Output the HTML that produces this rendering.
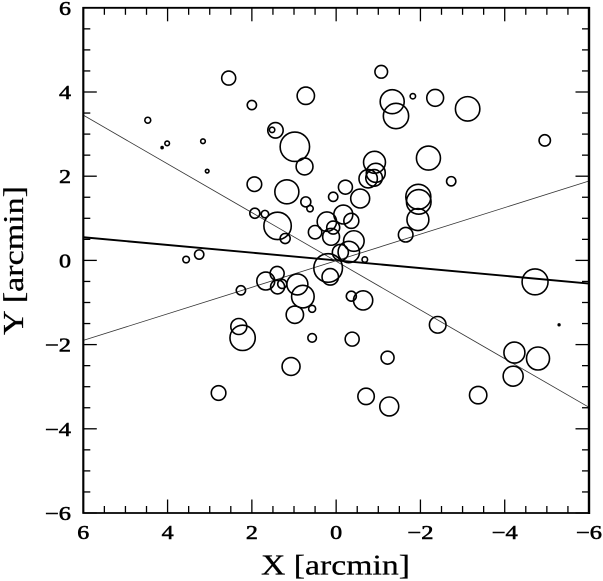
<!DOCTYPE html>
<html>
<head>
<meta charset="utf-8">
<title>X-Y arcmin bubble chart</title>
<style>
html,body{margin:0;padding:0;background:#fff;}
svg{display:block;}
text{font-family:"Liberation Serif",serif;fill:#000;stroke:#000;stroke-width:.25px;}
#tick-labels text{stroke-width:.55px;}
</style>
</head>
<body>
<svg id="chart" width="603" height="581" viewBox="0 0 603 581" xmlns="http://www.w3.org/2000/svg">
<rect x="0" y="0" width="603" height="581" fill="#fff"/>
<g id="lines"></g>
<g id="bubbles" fill="none" stroke="#000" stroke-width="1.6"></g>
<g id="ticks" stroke="#000" stroke-width="1.3"></g>
<g id="tick-labels" font-size="20"></g>
<path d="M83.3 7.8H589V513H83.3Z" fill="none" stroke="#000" stroke-width="1.8"/>
<path d="M83.3 7V513.5" stroke="#000" stroke-width="2"/>
<path d="M589 7V514" stroke="#000" stroke-width="2.4"/>
<text x="335.5" y="574.5" font-size="28" text-anchor="middle" textLength="149" lengthAdjust="spacingAndGlyphs">X [arcmin]</text>
<text x="0" y="0" transform="translate(23,260.5) rotate(-90)" font-size="28" text-anchor="middle" textLength="149" lengthAdjust="spacingAndGlyphs">Y [arcmin]</text>
</svg>
<script>
const xValues = [2.55,2.00,4.47,4.01,4.13,3.16,3.06,1.44,1.52,0.98,0.75,1.94,1.17,1.93,1.69,1.39,1.21,3.25,3.56,0.72,-1.07,-1.33,-1.42,-1.82,-2.35,-3.12,-4.95,-0.91,-2.19,-0.94,-0.76,-0.90,-2.73,-0.22,0.07,-0.57,0.72,0.62,-1.95,-1.96,-1.94,-0.17,-0.36,0.22,0.07,0.50,0.12,-1.65,-0.42,-0.10,-0.30,-0.68,0.19,0.14,-4.72,-2.41,-5.29,-4.23,-4.79,-4.20,-3.37,-1.22,-1.26,-0.71,-0.38,0.57,0.57,-0.36,-0.64,0.79,1.67,1.40,1.39,1.28,0.92,2.26,0.98,2.31,2.22,2.79,1.07];
const yValues = [4.33,3.69,3.33,2.78,2.68,2.83,2.12,3.09,3.10,2.70,2.23,1.81,1.63,1.12,1.10,0.82,0.52,0.14,0.02,3.91,4.48,3.77,3.43,3.90,3.86,3.60,2.85,2.33,2.43,2.08,1.94,1.96,1.88,1.74,1.51,1.47,1.39,1.23,1.51,1.39,0.97,1.09,0.94,0.92,0.78,0.67,0.56,0.61,0.46,0.19,0.20,0.02,-0.18,-0.39,-0.51,-1.53,-1.53,-2.19,-2.33,-2.75,-3.20,-2.31,-3.47,-3.23,-1.87,-1.84,-1.15,-0.85,-0.95,-0.86,-0.49,-0.31,-0.63,-0.56,-0.57,-0.71,-1.29,-1.57,-1.84,-3.15,-2.52];
const radii = [0.166,0.11,0.07,0.055,0.024,0.055,0.043,0.183,0.064,0.349,0.20,0.173,0.285,0.119,0.088,0.325,0.119,0.11,0.078,0.206,0.15,0.285,0.30,0.064,0.20,0.29,0.135,0.26,0.285,0.225,0.218,0.197,0.11,0.166,0.11,0.225,0.119,0.076,0.297,0.292,0.26,0.225,0.178,0.23,0.154,0.159,0.20,0.173,0.244,0.19,0.254,0.066,0.34,0.195,0.308,0.197,0.02,0.249,0.273,0.237,0.206,0.154,0.225,0.195,0.166,0.102,0.083,0.119,0.228,0.268,0.213,0.166,0.166,0.107,0.249,0.11,0.206,0.19,0.30,0.173,0.213];
const lineStartY = [0.55,3.45,-1.90];
const lineEndY = [-0.55,-3.49,1.885];
const lineNames = ['thick-fit-line','descending-thin-line','ascending-thin-line'];
const axisTicks = [-6,-5.5,-5,-4.5,-4,-3.5,-3,-2.5,-2,-1.5,-1,-0.5,0,0.5,1,1.5,2,2.5,3,3.5,4,4.5,5,5.5,6];
const tickLabels = [6,4,2,0,-2,-4,-6];

const NS = 'http://www.w3.org/2000/svg';
const xDomain = [6,-6], yDomain = [6,-6];
const xPix = [83.3,589], yPix = [7.8,513];
function sx(v){ return xPix[0] + (v-xDomain[0])/(xDomain[1]-xDomain[0])*(xPix[1]-xPix[0]); }
function sy(v){ return yPix[0] + (v-yDomain[0])/(yDomain[1]-yDomain[0])*(yPix[1]-yPix[0]); }
function sr(v){ return v*(xPix[1]-xPix[0])/12; }
function mk(tag, attrs){
  const el = document.createElementNS(NS, tag);
  for (const k in attrs) el.setAttribute(k, attrs[k]);
  return el;
}
const linesG = document.getElementById('lines');
lineNames.forEach(function(name,i){
  const el = mk('line',{x1:sx(6),y1:sy(lineStartY[i]),x2:sx(-6),y2:sy(lineEndY[i]),stroke:i===0?'#000':'#333','stroke-width':i===0?1.9:0.8});
  
  
  linesG.appendChild(el);
});
const bubblesG = document.getElementById('bubbles');
xValues.forEach(function(x,i){
  const el = mk('circle',{cx:sx(x),cy:sy(yValues[i]),r:sr(radii[i])});
  if (radii[i] < 0.03) { el.setAttribute('fill','#000'); }
  
  
  bubblesG.appendChild(el);
});
const ticksG = document.getElementById('ticks');
axisTicks.forEach(function(v){
  const major = v % 2 === 0;
  const len = major ? 13.5 : 7;
  const segs = [
    [sx(v),yPix[0],sx(v),yPix[0]+len],
    [sx(v),yPix[1],sx(v),yPix[1]-len],
    [xPix[0],sy(v),xPix[0]+len,sy(v)],
    [xPix[1],sy(v),xPix[1]-len,sy(v)]
  ];
  segs.forEach(function(s){
    const el = mk('line',{x1:s[0],y1:s[1],x2:s[2],y2:s[3]});
    
    
    ticksG.appendChild(el);
  });
});
const labelsG = document.getElementById('tick-labels');
function fmt(v){ return v < 0 ? '\u2212' + Math.abs(v) : String(v); }
tickLabels.forEach(function(v){
  const w = v < 0 ? 26 : 12;
  const xl = mk('text',{x:sx(v),y:539,'text-anchor':'middle',textLength:w,lengthAdjust:'spacingAndGlyphs'});
  xl.textContent = fmt(v);
  
  
  labelsG.appendChild(xl);
  const yl = mk('text',{x:71,y:sy(v)+7,'text-anchor':'end',textLength:w,lengthAdjust:'spacingAndGlyphs'});
  yl.textContent = fmt(v);
  
  
  labelsG.appendChild(yl);
});
</script>
</body>
</html>
